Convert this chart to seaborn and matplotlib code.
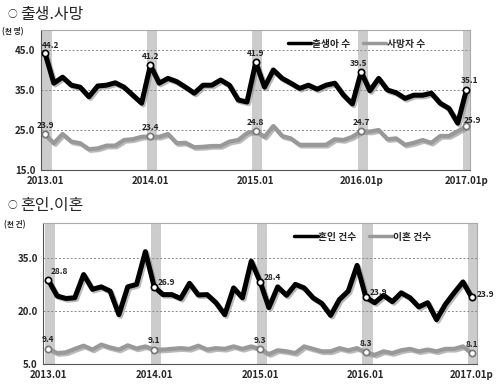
import numpy as np
import pandas as pd
import matplotlib
matplotlib.use("Agg")
import matplotlib.pyplot as plt
import matplotlib.patheffects as pe
import seaborn as sns

# monthly series 2013.01 - 2017.01 (천 명 / 천 건)
births = [44.2, 36.7, 38.2, 36.2, 35.7, 33.3, 36.0, 36.2, 36.8, 35.7, 33.7, 31.7,
          41.2, 36.7, 37.9, 37.1, 35.7, 34.2, 36.2, 36.2, 37.5, 36.2, 32.5, 32.0,
          41.9, 35.7, 40.0, 37.9, 36.7, 35.4, 36.2, 35.2, 36.2, 36.7, 33.7, 31.5,
          39.5, 34.8, 37.9, 35.0, 34.3, 32.9, 33.7, 33.7, 34.2, 31.7, 30.4, 26.7,
          35.1]
deaths = [23.9, 21.7, 24.0, 22.1, 21.7, 20.2, 20.4, 21.1, 21.1, 22.5, 22.7, 23.3,
          23.4, 23.3, 24.0, 21.7, 21.8, 20.7, 20.8, 21.0, 21.0, 22.1, 22.5, 24.2,
          24.8, 23.3, 26.0, 23.5, 22.9, 21.3, 21.3, 21.3, 21.3, 22.7, 22.5, 23.3,
          24.7, 24.6, 25.0, 22.7, 22.9, 21.3, 21.8, 22.5, 21.8, 23.5, 23.5, 24.7,
          25.9]
marriages = [28.8, 24.3, 23.6, 23.8, 30.4, 26.2, 26.9, 25.7, 19.0, 26.9, 27.6, 36.9,
             26.9, 24.7, 24.7, 23.6, 27.9, 24.6, 24.7, 22.4, 19.0, 26.6, 23.8, 34.2,
             28.4, 21.0, 26.9, 24.5, 27.6, 26.6, 23.8, 22.2, 18.8, 23.3, 25.7, 33.0,
             23.9, 22.4, 24.5, 22.7, 25.2, 23.8, 21.2, 22.4, 17.6, 21.9, 25.2, 28.3,
             23.9]
divorces = [9.4, 8.1, 8.3, 9.3, 10.2, 9.1, 10.5, 9.7, 9.1, 10.3, 9.4, 10.0,
            9.1, 9.1, 9.3, 9.5, 9.3, 10.2, 9.1, 9.5, 9.3, 10.0, 9.3, 10.0,
            9.3, 7.8, 8.9, 8.6, 8.1, 10.0, 9.3, 8.6, 8.6, 9.5, 8.9, 9.5,
            8.3, 7.6, 8.6, 8.1, 8.9, 9.3, 8.6, 9.1, 8.6, 9.3, 9.3, 10.0,
            8.1]
top_xticklabels = ["2013.01", "2014.01", "2015.01", "2016.01p", "2017.01p"]
bot_xticklabels = ["2013.01", "2014.01", "2015.01", "2016.01", "2017.01p"]

sns.set_style("white")
plt.rcParams['font.family'] = ['Noto Sans CJK KR', 'DejaVu Sans']

months = np.arange(len(births))
jan = months[::12]
df_top = pd.DataFrame({"m": months, "출생아 수": births, "사망자 수": deaths})
df_bot = pd.DataFrame({"m": months, "혼인 건수": marriages, "이혼 건수": divorces})

fig = plt.figure(figsize=(5, 3.86), dpi=100)
ax1 = fig.add_axes([0.082, 0.5596, 0.858, 0.3627])
ax2 = fig.add_axes([0.0866, 0.057, 0.867, 0.365])

shadow = [pe.SimpleLineShadow(offset=(1.2, -1.2), shadow_color='0.55', alpha=0.6), pe.Normal()]


def draw_panel(ax, df, names, ylim, yticks, grids, xlim, xlabels, unit, offsets):
    for x in jan:
        ax.axvspan(x - 0.4, x + 0.75, color='#cccccc', zorder=0, lw=0)
    for g in grids:
        ax.axhline(g, color='#888888', lw=0.7, ls=(0, (2, 2)), zorder=1)
    colors = ['black', '#999999']
    widths = [3.6, 3.0]
    for name, c, w in zip(names, colors, widths):
        sns.lineplot(data=df, x="m", y=name, ax=ax, color=c, lw=w, label=name,
                     path_effects=shadow, zorder=3, solid_joinstyle='round',
                     solid_capstyle='round')
        ax.plot(jan, df[name].values[jan], 'o', ms=4.5, mfc='white',
                mec='black' if c == 'black' else '#777777', mew=1.2, zorder=4)
    for name, off in zip(names, offsets):
        vals = df[name].values
        for k, x in enumerate(jan):
            dx, dy = off[k]
            ax.annotate(f"{vals[x]:.1f}", (x, vals[x]), xytext=(dx, dy),
                        textcoords='offset points', fontsize=6, fontweight='bold',
                        ha='center', va='bottom', color='#222222', zorder=5)
    ax.set_xlim(*xlim)
    ax.set_ylim(*ylim)
    ax.set_yticks(yticks)
    ax.set_yticklabels([f"{v:.1f}" for v in yticks], fontsize=7, fontweight='bold')
    ax.set_xticks(jan)
    ax.set_xticklabels(xlabels, fontsize=7, fontweight='bold')
    ax.tick_params(length=0, pad=4)
    ax.set_xlabel("")
    ax.set_ylabel("")
    for s in ax.spines.values():
        s.set_color('#aaaaaa')
        s.set_linewidth(0.8)
    ax.spines['left'].set_color('#555555')
    ax.spines['bottom'].set_color('#555555')
    ax.text(-0.09, 0.99, unit, transform=ax.transAxes, fontsize=5.5,
            fontweight='bold', va='center', ha='left')
    leg = ax.legend(loc='upper right', bbox_to_anchor=(0.915, 1.0), ncol=2,
                    frameon=False, handlelength=2.4, columnspacing=1.3,
                    handletextpad=0.05, prop={'weight': 'bold', 'size': 7})
    for line in leg.get_lines():
        line.set_path_effects([])
        line.set_linewidth(2.5)


top_offsets = [
    [(4, 2), (0, 3), (0, 3), (-2, 3), (2, 3)],
    [(0, 3), (0, 3), (0, 3), (0, 3), (4, 1)],
]
draw_panel(ax1, df_top, ["출생아 수", "사망자 수"], (15, 50), [15, 25, 35, 45], [25, 35, 45],
           (-0.46, 48.4), top_xticklabels, "(천 명)", top_offsets)

bot_offsets = [
    [(8, 3), (9, 0), (9, 0), (9, 0), (10, -1)],
    [(0, 3), (0, 3), (0, 3), (0, 3), (0, 3)],
]
draw_panel(ax2, df_bot, ["혼인 건수", "이혼 건수"], (5, 45), [5, 20, 35], [20, 35],
           (-0.57, 48.57), bot_xticklabels, "(천 건)", bot_offsets)

for y, title in [(0.963, "출생.사망"), (0.468, "혼인.이혼")]:
    fig.text(0.016, y, "○", fontsize=7, va='center', ha='left')
    fig.text(0.04, y, title, fontsize=11.5, va='center', ha='left')

fig.savefig("out.png", dpi=100)
